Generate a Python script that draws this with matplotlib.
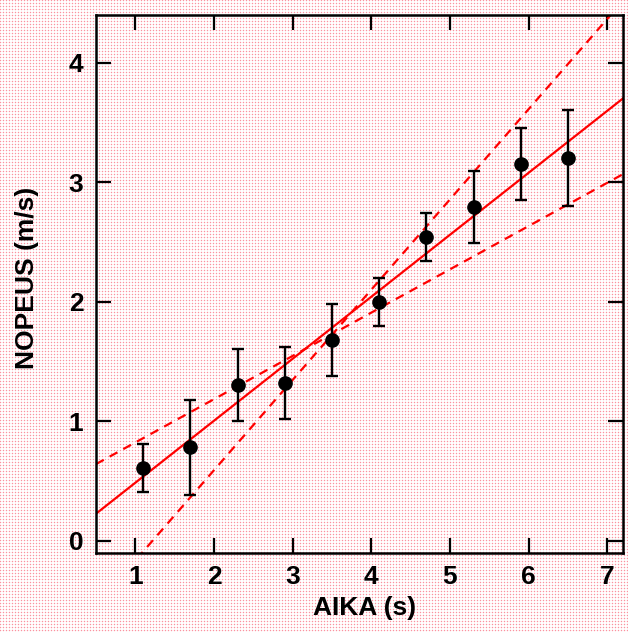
import numpy as np
import matplotlib
matplotlib.use("Agg")
import matplotlib.pyplot as plt

# Data
aika = [1.1, 1.7, 2.3, 2.9, 3.5, 4.1, 4.7, 5.3, 5.9, 6.5]
nopeus = [0.61, 0.78, 1.30, 1.32, 1.68, 2.00, 2.54, 2.79, 3.15, 3.20]
virhe = [0.20, 0.40, 0.30, 0.30, 0.30, 0.20, 0.20, 0.30, 0.30, 0.40]
# max / min slope lines (slope, intercept)
jyrkka = (0.755, -0.92)
loiva = (0.362, 0.46)
xticks = [1, 2, 3, 4, 5, 6, 7]
yticks = [0, 1, 2, 3, 4]

plt.rcParams['font.family'] = ['Liberation Sans', 'DejaVu Sans']
plt.rcParams['font.weight'] = 'bold'

W, H = 628, 632
fig = plt.figure(figsize=(W / 100, H / 100), dpi=100)

# dotted pink background texture
bg = np.ones((H, W, 3))
yy, xx = np.mgrid[0:H, 0:W]
light = ((yy % 3 == 0) ^ (xx % 3 == 0))
dark = ((yy % 3 == 0) & (xx % 3 == 0))
bg[light] = [1.0, 0.93, 0.94]
bg[dark] = [0.98, 0.58, 0.63]
fig.figimage(bg, 0, 0, zorder=-10)
fig.patch.set_alpha(0)

ax = fig.add_axes([96 / W, 1 - 552.7 / H, (623 - 96) / W, (552.7 - 14.7) / H])
ax.set_facecolor('none')
ax.patch.set_alpha(0)

xmin, xmax = 0.5, 7.2
ymin, ymax = -0.1, 4.4
xs = np.linspace(xmin, xmax, 200)

b, a = np.polyfit(aika, nopeus, 1)
ax.plot(xs, a + b * xs, color='red', lw=1.6, zorder=2)
ax.plot(xs, jyrkka[1] + jyrkka[0] * xs, color='red', lw=1.6, ls=(0, (4, 3)), zorder=2)
ax.plot(xs, loiva[1] + loiva[0] * xs, color='red', lw=1.6, ls=(0, (4, 3)), zorder=2)

ax.errorbar(aika, nopeus, yerr=virhe, fmt='o', color='black', ms=9.5,
            elinewidth=1.7, capsize=4.5, capthick=1.7, zorder=3)

ax.set_xlim(xmin, xmax)
ax.set_ylim(ymin, ymax)
ax.set_xticks(xticks)
ax.set_yticks(yticks)
ax.tick_params(direction='in', length=11, width=1.6, top=True, right=True,
               labelsize=19, pad=9)
for lab in ax.get_xticklabels() + ax.get_yticklabels():
    lab.set_fontweight('bold')
for s in ax.spines.values():
    s.set_linewidth(1.8)

ax.set_xlabel('AIKA (s)', fontsize=19, fontweight='bold')
ax.set_ylabel('NOPEUS (m/s)', fontsize=19, fontweight='bold')
ax.xaxis.set_label_coords(0.51, -0.102)
ax.yaxis.set_label_coords(-0.13, 0.51)
ax.yaxis.label.set_verticalalignment('center')
ax.xaxis.label.set_verticalalignment('center')

fig.savefig('out.png', dpi=100)
